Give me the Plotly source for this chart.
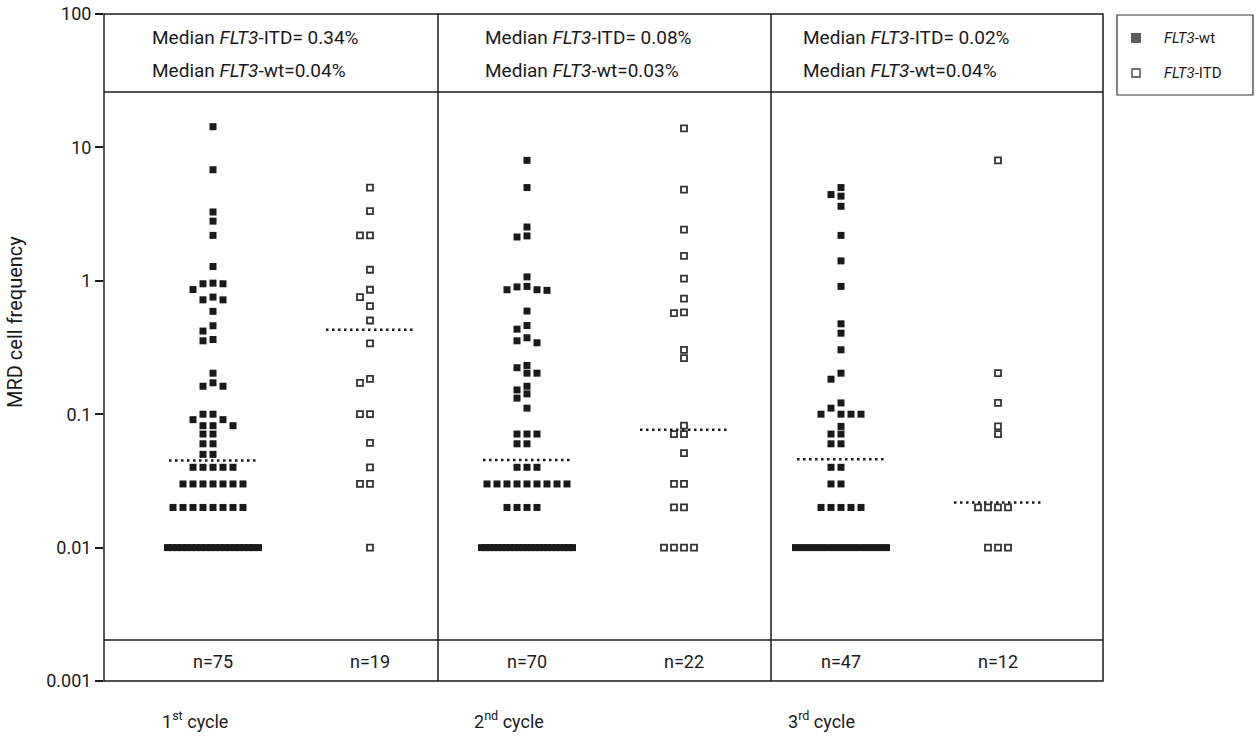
import numpy as np
import plotly.graph_objects as go

# ---------------- data ----------------
cycle_labels = ["1<sup>st</sup> cycle", "2<sup>nd</sup> cycle", "3<sup>rd</sup> cycle"]
n_labels = ["n=75", "n=19", "n=70", "n=22", "n=47", "n=12"]
median_itd_text = ["0.34%", "0.08%", "0.02%"]
median_wt_text = ["0.04%", "0.03%", "0.04%"]
# dotted median lines as drawn (wt1, itd1, wt2, itd2, wt3, itd3)
median_lines = [0.045, 0.43, 0.0454, 0.0766, 0.046, 0.0218]
series_names = ["<i>FLT3</i>-wt", "<i>FLT3</i>-ITD"]

wt_c1 = [14.3, 6.8, 3.28, 2.8, 2.19, 1.28, 0.96, 0.95, 0.95, 0.86, 0.755, 0.72, 0.72,
         0.59, 0.46, 0.42, 0.363, 0.355, 0.203, 0.172, 0.162, 0.162,
         0.1, 0.1, 0.091, 0.091, 0.082, 0.082, 0.082, 0.071, 0.071, 0.06, 0.06, 0.05, 0.05,
         0.04, 0.04, 0.04, 0.04, 0.04,
         0.03, 0.03, 0.03, 0.03, 0.03, 0.03, 0.03,
         0.02, 0.02, 0.02, 0.02, 0.02, 0.02, 0.02, 0.02,
         0.01, 0.01, 0.01, 0.01, 0.01, 0.01, 0.01, 0.01, 0.01, 0.01,
         0.01, 0.01, 0.01, 0.01, 0.01, 0.01, 0.01, 0.01, 0.01, 0.01]
itd_c1 = [5.0, 3.33, 2.19, 2.19, 1.21, 0.857, 0.755, 0.646, 0.504, 0.34, 0.184, 0.172,
          0.1, 0.1, 0.061, 0.04, 0.03, 0.03, 0.01]

wt_c2 = [8.0, 5.0, 2.53, 2.17, 2.13, 1.07, 0.908, 0.90, 0.857, 0.857, 0.848, 0.593,
         0.462, 0.434, 0.374, 0.355, 0.343, 0.232, 0.223, 0.203, 0.203,
         0.162, 0.152, 0.142, 0.132, 0.111,
         0.071, 0.071, 0.071, 0.06, 0.06,
         0.04, 0.04, 0.04,
         0.03, 0.03, 0.03, 0.03, 0.03, 0.03, 0.03, 0.03, 0.03,
         0.02, 0.02, 0.02, 0.02,
         0.01, 0.01, 0.01, 0.01, 0.01, 0.01, 0.01, 0.01, 0.01, 0.01, 0.01, 0.01,
         0.01, 0.01, 0.01, 0.01, 0.01, 0.01, 0.01, 0.01, 0.01, 0.01, 0.01]
itd_c2 = [13.9, 4.83, 2.42, 1.54, 1.04, 0.734, 0.58, 0.573, 0.304, 0.263,
          0.082, 0.071, 0.071, 0.051, 0.03, 0.03, 0.02, 0.02, 0.01, 0.01, 0.01, 0.01]

wt_c3 = [5.0, 4.43, 4.31, 3.62, 2.19, 1.41, 0.908, 0.476, 0.405, 0.304, 0.203, 0.183,
         0.1215, 0.111, 0.1, 0.1, 0.1, 0.1,
         0.081, 0.071, 0.071, 0.06, 0.06,
         0.04, 0.04, 0.03, 0.03,
         0.02, 0.02, 0.02, 0.02, 0.02,
         0.01, 0.01, 0.01, 0.01, 0.01, 0.01, 0.01, 0.01, 0.01, 0.01,
         0.01, 0.01, 0.01, 0.01, 0.01]
itd_c3 = [8.0, 0.203, 0.1215, 0.081, 0.071, 0.02, 0.02, 0.02, 0.02, 0.01, 0.01, 0.01]

groups_wt = [wt_c1, wt_c2, wt_c3]
groups_itd = [itd_c1, itd_c2, itd_c3]

# ---------------- geometry / style ----------------
FONT = "Roboto, Liberation Sans Narrow, DejaVu Sans Condensed, sans-serif"
W, H = 1258, 740
PX_L, PX_R, PX_T, PX_B = 104, 1103, 14, 681
COL0_PX, COL_STEP_PX = 213, 157          # column centres in pixels
PX_PER_UNIT = COL_STEP_PX
DECADE_PX = (PX_B - PX_T) / 5.0
STEP_PX = 10.0
COLLIDE_PX = 7.5
BAR_SPAN_PX = 91.0
MAX_ROW = 10
INK = "#1a1a1a"
EDGE = "#333333"


def X(px):
    return px / W


def Y(py):
    return 1 - py / H


x_lo = (PX_L - COL0_PX) / PX_PER_UNIT
x_hi = (PX_R - COL0_PX) / PX_PER_UNIT


def swarm(values, center):
    step = STEP_PX / PX_PER_UNIT
    thr = COLLIDE_PX / DECADE_PX
    counts = {}
    for v in values:
        counts[v] = counts.get(v, 0) + 1
    xs, ys, placed = [], [], []
    order = [0, -1, 1, -2, 2, -3, 3, -4, 4, -5, 5, -6, 6]
    for v in sorted(counts, reverse=True):
        c = counts[v]
        lv = np.log10(v)
        if c > MAX_ROW:
            span = BAR_SPAN_PX / PX_PER_UNIT
            for i in range(c):
                xs.append(center - span / 2 + span * i / (c - 1))
                ys.append(v)
            continue
        for _ in range(c):
            chosen = order[-1]
            for s in order:
                if all(not (ps == s and abs(pl - lv) < thr) for pl, ps in placed):
                    chosen = s
                    break
            placed.append((lv, chosen))
            xs.append(center + chosen * step)
            ys.append(v)
    return xs, ys


fig = go.Figure()

wx, wy, ix, iy = [], [], [], []
for i in range(3):
    a, b = swarm(groups_wt[i], 2 * i)
    wx += a; wy += b
    a, b = swarm(groups_itd[i], 2 * i + 1)
    ix += a; iy += b

wt_marker = dict(symbol="square", size=7, color=INK, line=dict(width=0))
itd_marker = dict(symbol="square", size=6, color="white", line=dict(width=1.8, color=EDGE))

fig.add_trace(go.Scatter(x=wx, y=wy, mode="markers", name=series_names[0],
                         showlegend=False, hoverinfo="y", marker=wt_marker))
fig.add_trace(go.Scatter(x=ix, y=iy, mode="markers", name=series_names[1],
                         showlegend=False, hoverinfo="y", marker=itd_marker))

# median dotted lines
half = 44 / PX_PER_UNIT
mx, my = [], []
for k, m in enumerate(median_lines):
    mx += [k - half, k + half, None]
    my += [m, m, None]
fig.add_trace(go.Scatter(x=mx, y=my, mode="lines", showlegend=False, hoverinfo="skip",
                         line=dict(color=INK, width=2.5, dash="2.5px,3.5px")))

# legend box (drawn on an auxiliary axis placed in the legend area)
LEG = (1117, 1253, 15, 95)
leg_rows_px = [38, 73]
leg_sym_px = 1136
leg_text_px = 1162
lw, lh = LEG[1] - LEG[0], LEG[3] - LEG[2]
fig.add_trace(go.Scatter(
    x=[(leg_sym_px - LEG[0]) / lw] * 2,
    y=[1 - (r - LEG[2]) / lh for r in leg_rows_px],
    xaxis="x2", yaxis="y2", mode="markers", showlegend=False, hoverinfo="skip",
    marker=dict(symbol="square", size=[10, 8], color=[INK, "white"],
                line=dict(width=[0, 1.8], color=EDGE))))

shapes = []
line_style = dict(color=INK, width=1.5)
shapes.append(dict(type="rect", xref="paper", yref="paper", x0=X(PX_L), x1=X(PX_R),
                   y0=Y(PX_B), y1=Y(PX_T), line=line_style))
for ypx in (92, 640):
    shapes.append(dict(type="line", xref="paper", yref="paper", x0=X(PX_L), x1=X(PX_R),
                       y0=Y(ypx), y1=Y(ypx), line=line_style))
for xpx in (438, 771):
    shapes.append(dict(type="line", xref="paper", yref="paper", x0=X(xpx), x1=X(xpx),
                       y0=Y(PX_B), y1=Y(PX_T), line=line_style))
shapes.append(dict(type="rect", xref="paper", yref="paper", x0=X(LEG[0]), x1=X(LEG[1]),
                   y0=Y(LEG[3]), y1=Y(LEG[2]), line=dict(color=EDGE, width=1.2)))

annotations = []
head_x = [150, 483, 801]
for i in range(3):
    annotations.append(dict(xref="paper", yref="paper", x=X(head_x[i]), y=Y(37),
                            xanchor="left", yanchor="middle", showarrow=False,
                            text="Median <i>FLT3</i>-ITD= " + median_itd_text[i],
                            font=dict(family=FONT, size=19, color=INK)))
    annotations.append(dict(xref="paper", yref="paper", x=X(head_x[i]), y=Y(70),
                            xanchor="left", yanchor="middle", showarrow=False,
                            text="Median <i>FLT3</i>-wt=" + median_wt_text[i],
                            font=dict(family=FONT, size=19, color=INK)))
for k, t in enumerate(n_labels):
    annotations.append(dict(xref="x", yref="paper", x=k, y=Y(661),
                            xanchor="center", yanchor="middle", showarrow=False, text=t,
                            font=dict(family=FONT, size=18, color=INK)))
cyc_x = [195, 509, 821]
for i, t in enumerate(cycle_labels):
    annotations.append(dict(xref="paper", yref="paper", x=X(cyc_x[i]), y=Y(720),
                            xanchor="center", yanchor="middle", showarrow=False, text=t,
                            font=dict(family=FONT, size=18, color=INK)))
annotations.append(dict(xref="paper", yref="paper", x=X(15), y=Y(322), textangle=-90,
                        xanchor="center", yanchor="middle", showarrow=False,
                        text="MRD cell frequency",
                        font=dict(family=FONT, size=20, color=INK)))
for r, name in zip(leg_rows_px, series_names):
    annotations.append(dict(xref="paper", yref="paper", x=X(leg_text_px), y=Y(r),
                            xanchor="left", yanchor="middle", showarrow=False, text=name,
                            font=dict(family=FONT, size=15, color=INK)))

fig.update_layout(
    width=W, height=H,
    margin=dict(l=0, r=0, t=0, b=0, pad=0),
    paper_bgcolor="white", plot_bgcolor="white",
    font=dict(family=FONT, size=16, color=INK),
    showlegend=False,
    xaxis=dict(domain=[X(PX_L), X(PX_R)], range=[x_lo, x_hi], visible=False,
               fixedrange=True),
    yaxis=dict(domain=[Y(PX_B), Y(PX_T)], type="log", range=[-3, 2], showgrid=False,
               zeroline=False, showline=False, automargin=False,
               tickvals=[0.001, 0.01, 0.1, 1, 10, 100],
               ticktext=["0.001", "0.01", "0.1", "1", "10", "100"],
               ticks="outside", ticklen=8, tickwidth=1.5, tickcolor=INK,
               tickfont=dict(family=FONT, size=18, color=INK), fixedrange=True),
    xaxis2=dict(domain=[X(LEG[0]), X(LEG[1])], range=[0, 1], visible=False,
                fixedrange=True, anchor="y2"),
    yaxis2=dict(domain=[Y(LEG[3]), Y(LEG[2])], range=[0, 1], visible=False,
                fixedrange=True, anchor="x2"),
    shapes=shapes, annotations=annotations,
)

fig.write_html("out.html", config={"displayModeBar": False},
               post_script="document.body.style.margin='0px';")
